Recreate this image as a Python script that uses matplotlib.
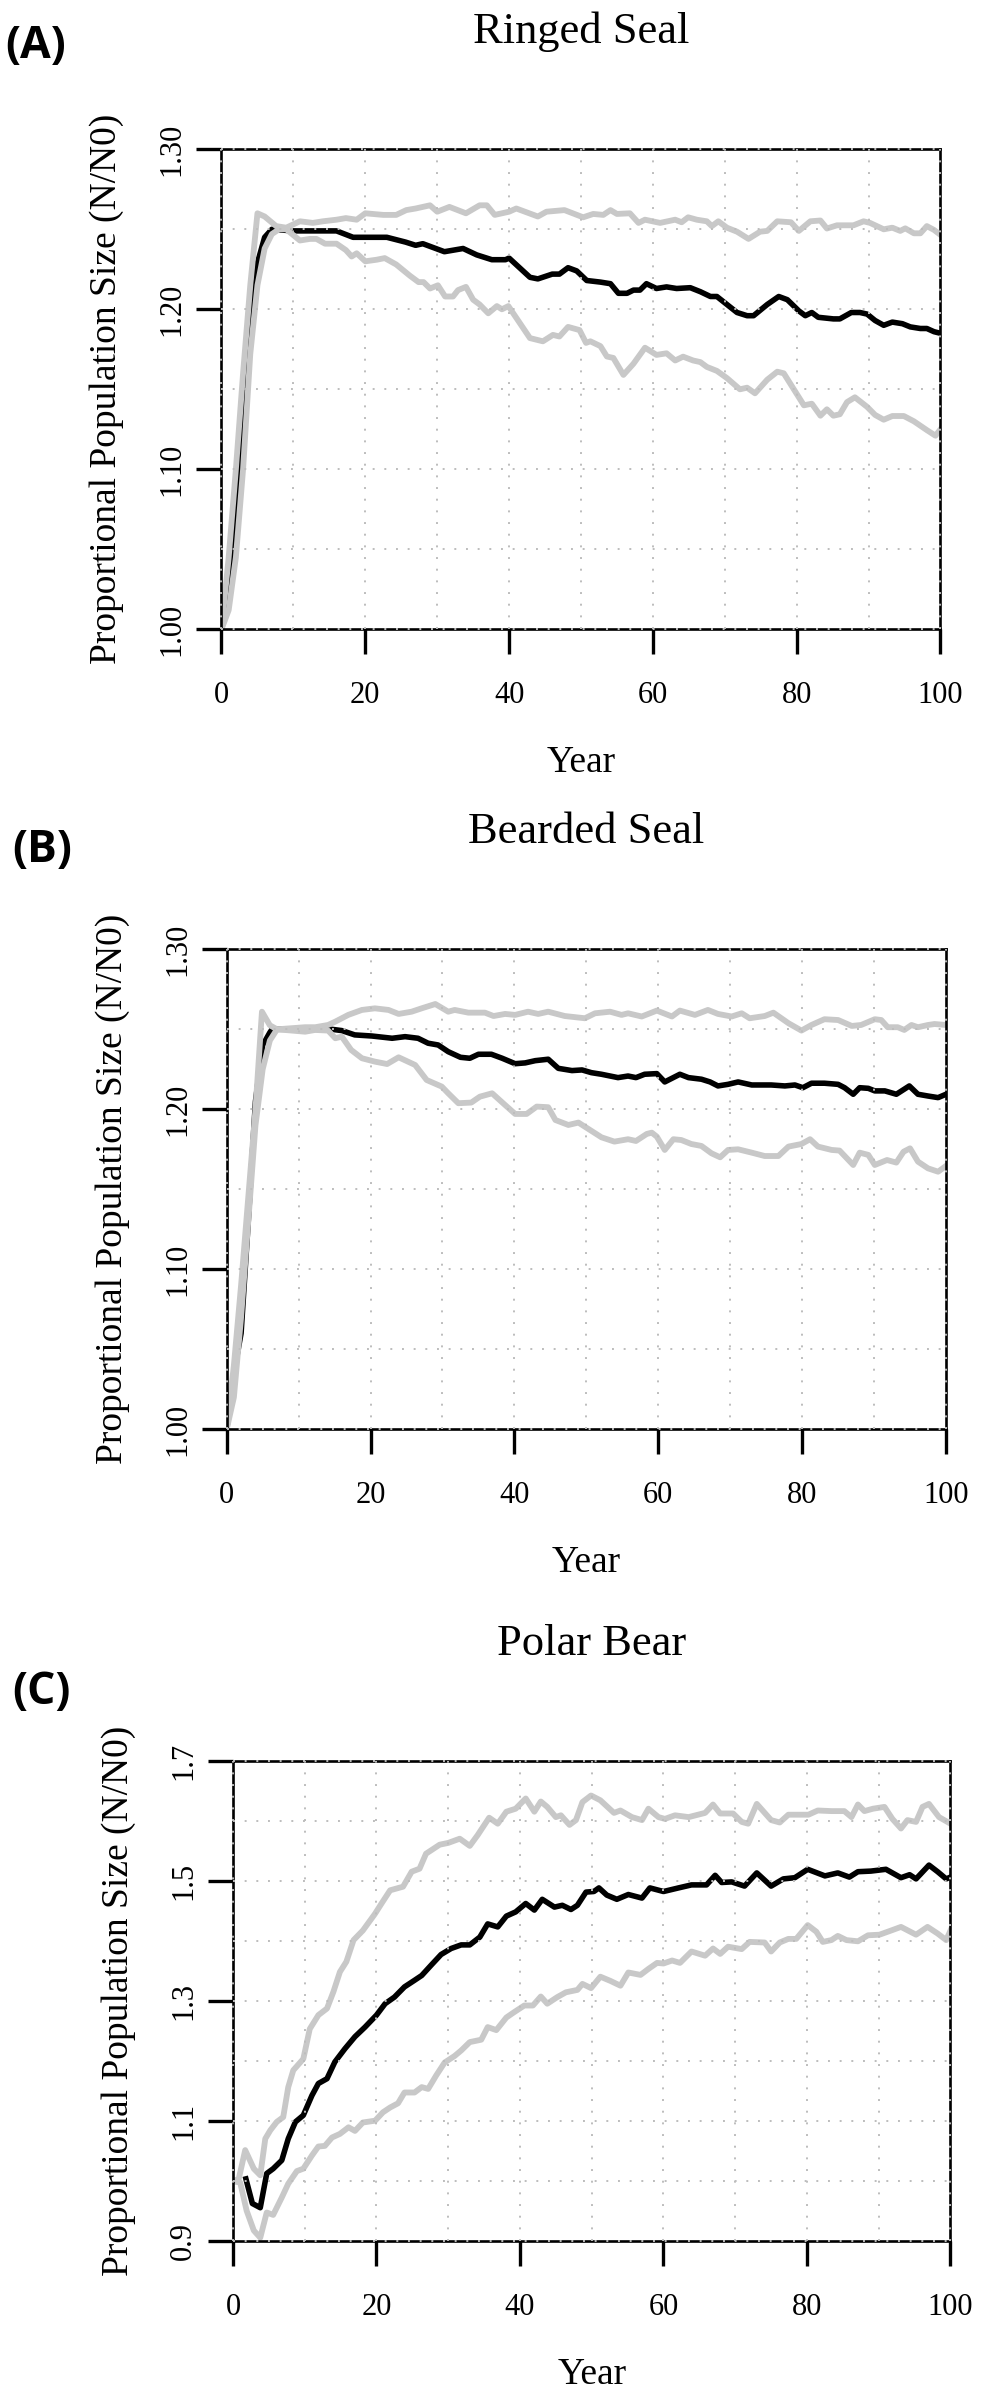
import matplotlib
matplotlib.use("Agg")
import matplotlib.pyplot as plt

# ---- data ----
# (A) Ringed Seal
ringed_mean_yr = [0, 1, 2, 3, 4, 5, 6, 7, 10, 16, 18.3, 23, 25.6, 27, 28, 31, 33.6, 35.5, 37.6, 39.5,
                  40, 42.9, 44, 46, 47, 48.2, 49.4, 50.8, 52.7, 54.1, 55.2, 56.4, 57.3, 58.2, 59.1,
                  60.5, 61.9, 63.3, 65.2, 66.6, 68, 68.9, 70.3, 71.7, 73.1, 74, 75.9, 77.5, 78.7,
                  80.3, 81.2, 82.1, 83, 85.1, 86, 87.6, 88.8, 89.8, 90.9, 92.1, 93.3, 94.7, 95.8,
                  97.2, 98.1, 99.1, 100]
ringed_mean = [1.000, 1.025, 1.076, 1.129, 1.180, 1.229, 1.245, 1.250, 1.249, 1.249, 1.245, 1.245,
               1.242, 1.240, 1.241, 1.236, 1.238, 1.234, 1.231, 1.231, 1.232, 1.220, 1.219, 1.222,
               1.222, 1.226, 1.224, 1.218, 1.217, 1.216, 1.210, 1.210, 1.212, 1.212, 1.216, 1.213,
               1.214, 1.213, 1.2135, 1.211, 1.208, 1.208, 1.203, 1.198, 1.196, 1.196, 1.203, 1.208,
               1.206, 1.199, 1.196, 1.198, 1.195, 1.194, 1.194, 1.198, 1.198, 1.197, 1.193, 1.190,
               1.192, 1.191, 1.189, 1.188, 1.188, 1.186, 1.185]
ringed_hi_yr = [0, 1, 2, 3, 4, 5, 6, 7.6, 9, 10.9, 12.7, 14.1, 16, 17.3, 18.8, 20, 22.5, 24.3, 25.7,
                27, 29, 30, 31.7, 34, 35.9, 36.9, 38, 40, 41, 44, 45.2, 47.7, 50.3, 51.7, 53.1, 54.1,
                55, 56.8, 58, 58.9, 61, 63.1, 64, 64.9, 66.1, 67.5, 68.2, 69.1, 70.3, 71.7, 73.3,
                74.9, 75.9, 77.3, 79.2, 80.3, 81.9, 83.3, 84.2, 85.6, 87.9, 89.3, 90.2, 92.1, 93.3,
                94.4, 95.1, 96.3, 97.2, 98.1, 99.1, 100]
ringed_hi = [1.000, 1.045, 1.100, 1.160, 1.215, 1.260, 1.258, 1.252, 1.251, 1.255, 1.254, 1.255,
             1.256, 1.257, 1.256, 1.260, 1.259, 1.259, 1.262, 1.263, 1.265, 1.261, 1.264, 1.260,
             1.265, 1.265, 1.259, 1.261, 1.263, 1.258, 1.261, 1.262, 1.2575, 1.2596, 1.259, 1.262,
             1.2596, 1.260, 1.254, 1.256, 1.254, 1.256, 1.2544, 1.2575, 1.256, 1.255, 1.252, 1.255,
             1.251, 1.2485, 1.244, 1.2485, 1.249, 1.255, 1.2544, 1.249, 1.255, 1.2555, 1.2505,
             1.2525, 1.2525, 1.255, 1.254, 1.250, 1.251, 1.249, 1.2506, 1.2475, 1.2475, 1.252,
             1.2496, 1.2465]
ringed_lo_yr = [0, 1, 2, 3, 4, 5, 6, 7, 8, 9, 10.9, 12.3, 13.2, 14.4, 16, 17.3, 18.1, 18.8, 20, 21.6,
                22.7, 24.3, 26.2, 27.4, 28.1, 29, 30.1, 31.1, 32.2, 32.9, 34, 35, 35.9, 37.1, 38.3,
                39, 39.9, 42.9, 44.7, 46.1, 47, 48.2, 49.8, 50.7, 51.3, 52.7, 53.6, 54.5, 55.9, 57.3,
                58.9, 60.5, 61.9, 63.1, 64.2, 65.6, 66.6, 67.5, 68.9, 70.3, 72.1, 73.1, 74.2, 75.9,
                77.3, 78.2, 79.6, 81, 82.1, 83.3, 84.2, 85.1, 86, 87, 88.1, 89.8, 90.9, 92.1, 93.3,
                94.9, 96.3, 98.1, 99.3, 100]
ringed_lo = [1.000, 1.012, 1.045, 1.100, 1.172, 1.215, 1.238, 1.247, 1.250, 1.250, 1.243, 1.244,
             1.244, 1.241, 1.241, 1.237, 1.233, 1.235, 1.230, 1.231, 1.232, 1.228, 1.221, 1.217,
             1.217, 1.213, 1.215, 1.208, 1.208, 1.212, 1.214, 1.206, 1.203, 1.1975, 1.202, 1.200,
             1.202, 1.182, 1.180, 1.184, 1.183, 1.189, 1.187, 1.179, 1.180, 1.177, 1.1705, 1.1696,
             1.159, 1.166, 1.176, 1.1715, 1.1725, 1.168, 1.1704, 1.168, 1.167, 1.164, 1.1615,
             1.157, 1.150, 1.151, 1.1475, 1.156, 1.161, 1.160, 1.150, 1.140, 1.141, 1.1335, 1.1375,
             1.1335, 1.1344, 1.142, 1.145, 1.139, 1.134, 1.131, 1.1333, 1.1333, 1.130, 1.1245,
             1.121, 1.125]

# (B) Bearded Seal
bearded_mean_yr = [0, 1, 2, 3, 4, 5, 6, 6.3, 14.6, 16, 17.8, 20.2, 23, 24.8, 26.6, 28, 29.4, 30.8,
                   32.5, 33.8, 35, 36.8, 38.3, 40.1, 41.5, 42.9, 44.7, 46.1, 48, 49.4, 50.7, 52.1,
                   54.4, 55.8, 56.9, 58.1, 59.8, 60.9, 63, 64.2, 66, 67.2, 68.3, 69.7, 71.1, 73,
                   75.7, 77.6, 79, 80.1, 81.3, 83.1, 85, 85.9, 87.1, 88, 89.2, 90.1, 91.5, 93.1,
                   94.9, 96.1, 97.5, 98.9, 100]
bearded_mean = [1.000, 1.035, 1.060, 1.130, 1.205, 1.240, 1.248, 1.250, 1.250, 1.2492, 1.2465,
                1.2458, 1.2444, 1.2454, 1.2444, 1.2413, 1.2402, 1.236, 1.2325, 1.2319, 1.2344,
                1.2344, 1.2319, 1.2285, 1.229, 1.2304, 1.2313, 1.2256, 1.2242, 1.2246, 1.2229,
                1.2219, 1.2198, 1.2208, 1.2198, 1.2219, 1.2223, 1.2171, 1.2219, 1.2198, 1.2188,
                1.2171, 1.2146, 1.2156, 1.2171, 1.2152, 1.2152, 1.2146, 1.2152, 1.2135, 1.2163,
                1.2163, 1.2156, 1.2135, 1.2094, 1.2135, 1.2131, 1.2115, 1.2115, 1.2094, 1.2146,
                1.2094, 1.2083, 1.2073, 1.2094]
bearded_hi_yr = [0, 1, 2, 3, 4, 4.9, 6, 7, 10.9, 12.3, 14.1, 15.1, 16.9, 18.8, 20.6, 22.5, 23.9,
                 25.7, 27.1, 29, 30.8, 31.7, 33.6, 35.9, 37.1, 38.7, 40.1, 41.9, 43.3, 44.7, 47,
                 49.8, 51.2, 53.3, 54.9, 55.8, 57.7, 59.8, 61.9, 63, 65.1, 66.9, 68.3, 70.2, 71.6,
                 72.7, 74.8, 76, 78.1, 79.9, 81.3, 83.1, 85, 86.9, 88.2, 90.1, 91, 91.9, 93.3, 94.2,
                 95.2, 96.1, 97.5, 98.4, 100]
bearded_hi = [1.000, 1.040, 1.090, 1.145, 1.200, 1.261, 1.2525, 1.250, 1.2513, 1.2513, 1.2527,
              1.2548, 1.259, 1.2621, 1.2631, 1.2621, 1.2596, 1.261, 1.2631, 1.2658, 1.261, 1.2621,
              1.2604, 1.2604, 1.2583, 1.2596, 1.259, 1.261, 1.2596, 1.261, 1.2583, 1.2569, 1.260,
              1.261, 1.259, 1.260, 1.258, 1.2617, 1.258, 1.2617, 1.259, 1.2621, 1.2596, 1.258,
              1.260, 1.2569, 1.2583, 1.2604, 1.2538, 1.2492, 1.2527, 1.2563, 1.2558, 1.2521,
              1.2527, 1.2563, 1.2558, 1.2513, 1.2513, 1.2496, 1.2527, 1.2513, 1.2527, 1.2533,
              1.2527]
bearded_lo_yr = [0, 1, 2, 3, 4, 5, 6, 7, 10.9, 12.3, 14.1, 15.1, 16, 17.3, 18.8, 20.6, 22.3, 23.9,
                 26.2, 27.8, 29.9, 30.8, 32.2, 34, 35.2, 36.9, 38.7, 40.1, 41.7, 43.1, 44.7, 45.7,
                 47.5, 48.9, 50.5, 52.1, 53.9, 55.8, 56.9, 58.4, 59.1, 59.8, 60.9, 62.1, 63.2,
                 64.6, 66, 67.4, 68.6, 69.7, 71.1, 73, 74.8, 76.7, 78.1, 79.9, 81.1, 82.2, 84.1,
                 85.2, 87.1, 88, 89.2, 90.1, 91.8, 93.1, 94.1, 95, 96.1, 97.5, 98.9, 100]
bearded_lo = [1.000, 1.020, 1.070, 1.130, 1.190, 1.225, 1.243, 1.250, 1.2485, 1.2496, 1.2492,
              1.2444, 1.2454, 1.2371, 1.2319, 1.2298, 1.2283, 1.2325, 1.2277, 1.2183, 1.2142,
              1.210, 1.2038, 1.2042, 1.2079, 1.210, 1.2027, 1.1971, 1.1971, 1.2017, 1.2013,
              1.1933, 1.1902, 1.1917, 1.1871, 1.1825, 1.1798, 1.1813, 1.1802, 1.1846, 1.1854,
              1.1829, 1.1746, 1.1813, 1.1808, 1.1783, 1.1771, 1.1725, 1.170, 1.1746, 1.175,
              1.1729, 1.1708, 1.1708, 1.1767, 1.1783, 1.1813, 1.1767, 1.1746, 1.1742, 1.1652,
              1.1729, 1.1715, 1.1652, 1.1683, 1.1667, 1.1735, 1.1756, 1.1673, 1.1631, 1.161,
              1.1646]

# (C) Polar Bear
polar_mean_yr = [1.8, 2.7, 3.8, 4.7, 5.6, 6.8, 7.7, 8.7, 9.8, 11, 11.9, 13.1, 14.2, 15.6, 17, 18.4,
                 20, 21.2, 22.5, 23.9, 25.3, 26.3, 27.6, 29, 30.4, 31.8, 33, 34.4, 35.5, 36.9, 38.1,
                 39.4, 40.8, 42, 43.1, 44.8, 45.9, 47.1, 48, 49.2, 50.3, 51, 52.1, 53.5, 55.1, 57,
                 58.1, 60, 62.1, 63.9, 66, 67.2, 68.1, 69.5, 71.3, 73, 75, 76.7, 78.3, 80.1, 82.5,
                 84.3, 85.9, 87.1, 88.9, 91, 93.1, 94.3, 95.2, 97, 98.2, 99.4, 100]
polar_mean = [1.004, 0.963, 0.956, 1.013, 1.021, 1.035, 1.071, 1.099, 1.110, 1.143, 1.163, 1.171,
              1.199, 1.221, 1.241, 1.257, 1.277, 1.296, 1.307, 1.324, 1.335, 1.343, 1.360, 1.378,
              1.388, 1.394, 1.394, 1.407, 1.429, 1.424, 1.442, 1.449, 1.463, 1.452, 1.470, 1.457,
              1.460, 1.453, 1.460, 1.482, 1.483, 1.489, 1.477, 1.470, 1.478, 1.472, 1.489, 1.483,
              1.489, 1.494, 1.494, 1.510, 1.498, 1.499, 1.492, 1.514, 1.492, 1.504, 1.506, 1.520,
              1.509, 1.514, 1.507, 1.516, 1.517, 1.520, 1.506, 1.511, 1.504, 1.527, 1.516, 1.504,
              1.507]
polar_hi_yr = [0, 0.8, 1.7, 2.9, 3.8, 4.5, 5.2, 6.1, 7, 7.7, 8.4, 9.8, 10.7, 11.9, 13.1, 14, 14.9,
               15.8, 16.8, 18.1, 19.8, 20.7, 21.9, 23.7, 24.9, 26, 26.9, 28.8, 30, 31.6, 33, 34.1,
               35.7, 36.9, 38.1, 39.4, 40.8, 42, 42.9, 43.8, 45, 45.7, 46.9, 47.8, 48.7, 49.9,
               51.2, 53.1, 54, 55.6, 57, 57.9, 59.3, 60.2, 61.6, 63.5, 65.8, 66.9, 67.9, 69.7,
               70.9, 71.8, 73, 75, 76.2, 77.4, 80.2, 81.5, 83.4, 85.2, 86.2, 87.1, 88, 89.2, 90.8,
               91.9, 93.1, 94, 95.2, 96.1, 97, 98.4, 100]
polar_hi = [1.000, 1.004, 1.052, 1.021, 1.010, 1.071, 1.085, 1.099, 1.107, 1.157, 1.185, 1.204,
            1.254, 1.277, 1.288, 1.316, 1.349, 1.366, 1.402, 1.418, 1.446, 1.463, 1.485, 1.491,
            1.516, 1.521, 1.546, 1.561, 1.564, 1.571, 1.559, 1.577, 1.606, 1.596, 1.616, 1.621,
            1.638, 1.616, 1.633, 1.624, 1.607, 1.610, 1.594, 1.602, 1.632, 1.643, 1.635, 1.614,
            1.618, 1.607, 1.602, 1.621, 1.607, 1.604, 1.610, 1.607, 1.614, 1.628, 1.613, 1.613,
            1.599, 1.596, 1.629, 1.602, 1.598, 1.611, 1.611, 1.618, 1.617, 1.617, 1.607, 1.628,
            1.617, 1.621, 1.624, 1.604, 1.588, 1.602, 1.599, 1.624, 1.629, 1.607, 1.596]
polar_lo_yr = [0, 1, 1.9, 2.9, 3.8, 4.7, 5.6, 6.8, 7.7, 8.9, 9.8, 11, 11.9, 12.8, 13.8, 14.9, 16.1,
               17, 18.1, 19.8, 20.9, 21.9, 23, 23.9, 25.3, 26.3, 27.2, 28.3, 29.5, 30.9, 31.8, 33,
               34.6, 35.5, 36.7, 38.1, 39.2, 40.6, 41.8, 42.9, 43.8, 45.2, 46.4, 48, 48.7, 49.9,
               51.2, 52.6, 54, 55.1, 56.8, 57.9, 59.1, 60, 61.2, 62.3, 63.9, 65.8, 66.9, 67.9, 69,
               70.9, 72, 74.1, 75, 76.2, 77.4, 78.5, 80.1, 81.3, 82.2, 83.4, 84.3, 85.5, 87.1,
               88.5, 90.1, 91.5, 93.1, 95.2, 96.8, 98.2, 99.4, 100]
polar_lo = [1.000, 0.998, 0.951, 0.918, 0.906, 0.948, 0.944, 0.973, 0.996, 1.017, 1.021, 1.043,
            1.058, 1.059, 1.073, 1.079, 1.090, 1.084, 1.098, 1.101, 1.115, 1.123, 1.130, 1.148,
            1.148, 1.157, 1.154, 1.176, 1.198, 1.209, 1.218, 1.232, 1.236, 1.257, 1.252, 1.273,
            1.282, 1.293, 1.293, 1.308, 1.296, 1.307, 1.315, 1.319, 1.329, 1.322, 1.341, 1.334,
            1.326, 1.348, 1.344, 1.354, 1.364, 1.363, 1.368, 1.364, 1.383, 1.376, 1.388, 1.379,
            1.391, 1.387, 1.399, 1.398, 1.383, 1.398, 1.404, 1.404, 1.427, 1.416, 1.399, 1.402,
            1.409, 1.402, 1.400, 1.410, 1.411, 1.417, 1.424, 1.411, 1.424, 1.413, 1.402, 1.418]

titles = ["Ringed Seal", "Bearded Seal", "Polar Bear"]
letters = ["(A)", "(B)", "(C)"]
x_ticks = [0, 20, 40, 60, 80, 100]
seal_ticks = [1.00, 1.10, 1.20, 1.30]
seal_tick_labels = ["1.00", "1.10", "1.20", "1.30"]
bear_ticks = [0.9, 1.1, 1.3, 1.5, 1.7]
bear_tick_labels = ["0.9", "1.1", "1.3", "1.5", "1.7"]

W, H = 987, 2388
SERIF = ["Liberation Serif", "DejaVu Serif"]
GRAY = "#C8C8C8"
GRID = "#BDBDBD"

fig = plt.figure(figsize=(W / 100, H / 100), dpi=100)


def px_axes(left, top, right, bottom):
    return fig.add_axes([left / W, 1 - bottom / H, (right - left) / W, (bottom - top) / H])


def ftext(x, y, s, **kw):
    fig.text(x / W, 1 - y / H, s, **kw)


panels = [
    dict(box=(221.5, 149.3, 940.5, 629.3), ylim=(1.00, 1.30), gstep=0.05, ng=7,
         ticks=seal_ticks, labels=seal_tick_labels, letter_xy=(5, 58),
         mean=(ringed_mean_yr, ringed_mean), hi=(ringed_hi_yr, ringed_hi), lo=(ringed_lo_yr, ringed_lo)),
    dict(box=(226.7, 949.3, 946.0, 1429.3), ylim=(1.00, 1.30), gstep=0.05, ng=7,
         ticks=seal_ticks, labels=seal_tick_labels, letter_xy=(12, 862),
         mean=(bearded_mean_yr, bearded_mean), hi=(bearded_hi_yr, bearded_hi), lo=(bearded_lo_yr, bearded_lo)),
    dict(box=(233.0, 1761.3, 950.5, 2241.3), ylim=(0.9, 1.7), gstep=0.1, ng=9,
         ticks=bear_ticks, labels=bear_tick_labels, letter_xy=(12, 1704),
         mean=(polar_mean_yr, polar_mean), hi=(polar_hi_yr, polar_hi), lo=(polar_lo_yr, polar_lo)),
]

for i, p in enumerate(panels):
    left, top, right, bottom = p["box"]
    ax = px_axes(left, top, right, bottom)
    ax.set_xlim(0, 100)
    ax.set_ylim(*p["ylim"])

    # black mean first, grey bounds over it
    ax.plot(*p["mean"], color="black", lw=4.0, solid_joinstyle="round", zorder=2)
    ax.plot(*p["hi"], color=GRAY, lw=4.2, solid_joinstyle="round", zorder=2.2)
    ax.plot(*p["lo"], color=GRAY, lw=4.2, solid_joinstyle="round", zorder=2.2)

    # dotted grid drawn on top, like R's grid()
    for gx in range(0, 101, 10):
        ax.axvline(gx, color=GRID, lw=1.4, ls=(0, (1, 5)), zorder=3, clip_on=False)
    y0 = p["ylim"][0]
    for k in range(p["ng"]):
        ax.axhline(y0 + k * p["gstep"], color=GRID, lw=1.4, ls=(0, (1, 5)), zorder=3, clip_on=False)

    for sp in ax.spines.values():
        sp.set_linewidth(1.9)
        sp.set_color("black")

    ax.set_xticks(x_ticks)
    ax.set_xticklabels([str(t) for t in x_ticks], fontfamily=SERIF, fontsize=22)
    ax.set_yticks(p["ticks"])
    ax.set_yticklabels(p["labels"], fontfamily=SERIF, fontsize=22, rotation=90, va="center")
    ax.tick_params(axis="both", direction="out", length=18, width=2.4, color="black")
    ax.tick_params(axis="x", pad=19)
    ax.tick_params(axis="y", pad=7)

    cx = (left + right) / 2
    cy = (top + bottom) / 2
    ftext(cx, top - 106, titles[i], fontfamily=SERIF, fontsize=32, ha="center", va="baseline")
    ftext(cx, bottom + 143, "Year", fontfamily=SERIF, fontsize=27, ha="center", va="baseline")
    ftext(left - 114.5, cy, "Proportional Population Size (N/N0)", fontfamily=SERIF,
          fontsize=27, rotation=90, ha="center", va="center")
    lx, ly = p["letter_xy"]
    ftext(lx, ly, letters[i], fontfamily=["Open Sans", "DejaVu Sans"], fontweight="bold",
          fontsize=32, ha="left", va="baseline")

fig.savefig("out.png", dpi=100)
